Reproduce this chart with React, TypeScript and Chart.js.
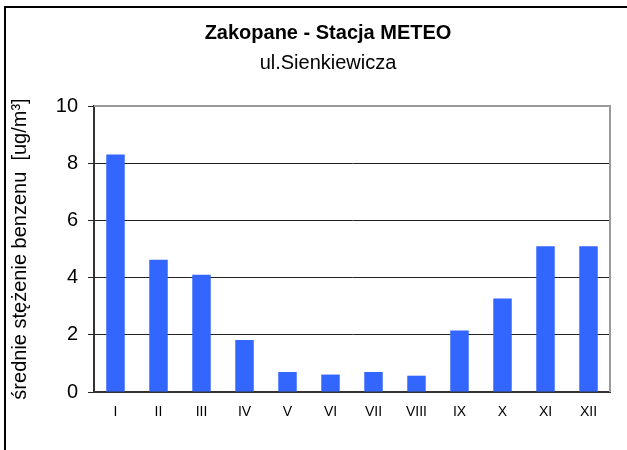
import React, { useEffect, useRef } from "react";
import { Chart, registerables } from "chart.js";

Chart.register(...registerables);

const months = ["I", "II", "III", "IV", "V", "VI", "VII", "VIII", "IX", "X", "XI", "XII"];
const benzene = [8.3, 4.62, 4.1, 1.82, 0.7, 0.61, 0.7, 0.57, 2.15, 3.27, 5.1, 5.1];
const titleText = "Zakopane - Stacja METEO";
const subtitleText = "ul.Sienkiewicza";
const yTitle = "średnie stężenie benzenu  [ug/m³]";

const FONT = "'Liberation Sans', Arial, sans-serif";

const plotBorder = {
  id: "plotBorder",
  afterDatasetsDraw(chart: any) {
    const { ctx, chartArea } = chart;
    ctx.save();
    ctx.strokeStyle = "#9a9a9a";
    ctx.lineWidth = 2;
    ctx.beginPath();
    ctx.moveTo(chartArea.left, chartArea.top);
    ctx.lineTo(chartArea.right, chartArea.top);
    ctx.lineTo(chartArea.right, chartArea.bottom);
    ctx.stroke();
    ctx.restore();
  },
};

export default function App() {
  const ref = useRef<HTMLCanvasElement>(null);
  useEffect(() => {
    if (!ref.current) return;
    const chart = new Chart(ref.current, {
      type: "bar",
      data: {
        labels: months,
        datasets: [
          {
            data: benzene,
            backgroundColor: "#3366ff",
            borderWidth: 0,
            barPercentage: 0.43,
            categoryPercentage: 1,
          },
        ],
      },
      plugins: [plotBorder],
      options: {
        animation: false,
        responsive: false,
        layout: { padding: { left: 0, right: 0, top: 0, bottom: 36 } },
        plugins: {
          legend: { display: false },
          tooltip: { enabled: false },
          title: {
            display: true,
            text: titleText,
            color: "#000",
            font: { family: FONT, size: 20, weight: "bold" },
            padding: { top: 13, bottom: 0 },
          },
          subtitle: {
            display: true,
            text: subtitleText,
            color: "#000",
            font: { family: FONT, size: 20, weight: "normal" },
            padding: { top: 6, bottom: 31 },
          },
        },
        scales: {
          x: {
            grid: { display: false, drawTicks: false },
            border: { display: true, color: "#333", width: 2 },
            ticks: {
              color: "#000",
              font: { family: FONT, size: 14 },
              padding: 12,
              maxRotation: 0,
            },
            afterFit(scale: any) {
              scale.height = 40;
            },
          },
          y: {
            min: 0,
            max: 10,
            ticks: {
              stepSize: 2,
              color: "#000",
              font: { family: FONT, size: 20 },
              padding: 10,
            },
            grid: { color: "#222", lineWidth: 1, tickLength: 6, tickColor: "#222" },
            border: { display: true, color: "#333", width: 2 },
            title: {
              display: true,
              text: yTitle,
              color: "#000",
              font: { family: FONT, size: 20 },
              padding: { top: 2, bottom: 0 },
            },
            afterFit(scale: any) {
              scale.width = 88;
            },
          },
          yRight: {
            position: "right",
            min: 0,
            max: 10,
            ticks: { display: false },
            grid: { display: false, drawTicks: false },
            border: { display: false },
            afterFit(scale: any) {
              scale.width = 40;
            },
          },
        },
      },
    });
    return () => chart.destroy();
  }, []);

  return (
    <div
      style={{
        position: "fixed",
        left: 4,
        top: 6,
        width: 660,
        height: 470,
        borderTop: "2px solid #000",
        borderLeft: "2px solid #000",
        background: "#fff",
      }}
    >
      <canvas ref={ref} width={644} height={460} style={{ display: "block", width: 644, height: 460 }} />
    </div>
  );
}
